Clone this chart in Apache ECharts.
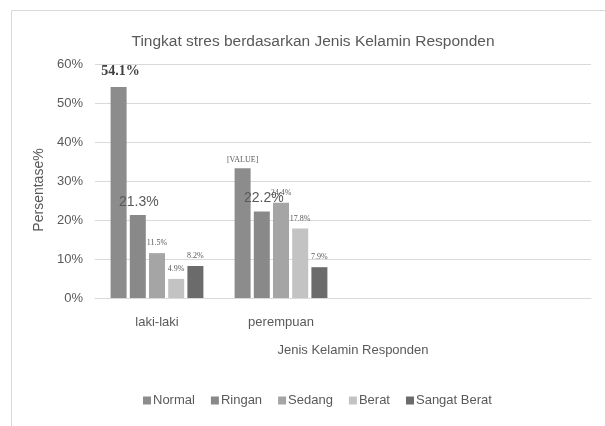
<!DOCTYPE html>
<html>
<head>
<meta charset="utf-8">
<script src="https://cdn.jsdelivr.net/npm/echarts@6/dist/echarts.min.js"></script>
<style>
  html, body { margin: 0; padding: 0; background: #fff; }
  #chart { width: 605px; height: 426px; }
</style>
</head>
<body>
<div id="chart"></div>
<script>
'use strict';

// data (percent)
const categories = ['laki-laki', 'perempuan', '', '']
const seriesNames = ['Normal', 'Ringan', 'Sedang', 'Berat', 'Sangat Berat']
const normal = [54.1, 33.3]
const ringan = [21.3, 22.2]
const sedang = [11.5, 24.4]
const berat = [4.9, 17.8]
const sangatBerat = [8.2, 7.9]
const yTicks = [0, 10, 20, 30, 40, 50, 60]

const values = [normal, ringan, sedang, berat, sangatBerat]
const colors = ['#8c8c8c', '#898989', '#a5a5a5', '#c3c3c3', '#6b6b6b']

const font = "'Liberation Sans', sans-serif"
const serif = "'Liberation Serif', 'DejaVu Serif', serif"

// label look per series (the original mixes several styles)
const smallLbl = { fontFamily: serif, fontSize: 8, color: '#595959' }
const labelLook = [
  [{ fontFamily: serif, fontSize: 14, fontWeight: 'bold', color: '#404040', offset: [2, -3] },
   { fontFamily: serif, fontSize: 8, color: '#595959', offset: [0, 2] }],
  [{ fontFamily: font, fontSize: 14, color: '#595959', offset: [1, 0] },
   { fontFamily: font, fontSize: 14, color: '#595959', offset: [2, 0] }],
  [smallLbl, smallLbl],
  [smallLbl, smallLbl],
  [smallLbl, smallLbl]
]

function labelText(si, ci, v) {
  if (si === 0 && ci === 1) return '[VALUE]'
  return v.toFixed(1) + '%'
}

var chart = echarts.init(document.getElementById('chart'))
const option = {
  animation: false,
  textStyle: { fontFamily: font },
  graphic: [{
    type: 'rect',
    shape: { x: 11.5, y: 10.5, width: 700, height: 500 },
    style: { fill: 'none', stroke: '#d9d9d9', lineWidth: 1 },
    silent: true
  }],
  title: {
    text: 'Tingkat stres berdasarkan Jenis Kelamin Responden',
    left: 308,
    textAlign: 'center',
    top: 29,
    textStyle: { fontFamily: font, fontSize: 15.5, fontWeight: 'normal', color: '#595959' }
  },
  legend: {
    data: seriesNames,
    bottom: 14,
    left: 138,
    itemWidth: 8,
    itemHeight: 8,
    itemGap: 16,
    icon: 'rect',
    textStyle: { fontFamily: font, fontSize: 13, color: '#595959', padding: [0, 0, 0, -3] }
  },
  grid: { left: 95, right: 14, top: 64, bottom: 128 },
  xAxis: {
    type: 'category',
    data: categories,
    name: 'Jenis Kelamin Responden',
    nameLocation: 'middle',
    nameGap: 46,
    nameTextStyle: { fontFamily: font, fontSize: 13, color: '#595959', padding: [0, 0, 0, 20] },
    axisLine: { lineStyle: { color: '#d9d9d9' } },
    axisTick: { show: false },
    axisLabel: { fontFamily: font, fontSize: 13, color: '#595959', margin: 18 }
  },
  yAxis: {
    type: 'value',
    min: yTicks[0],
    max: yTicks[yTicks.length - 1],
    interval: 10,
    name: 'Persentase%',
    nameLocation: 'middle',
    nameGap: 38,
    nameTextStyle: { fontFamily: font, fontSize: 14, color: '#595959', padding: [0, 18, 0, 0] },
    axisLine: { show: false },
    axisTick: { show: false },
    axisLabel: { fontFamily: font, fontSize: 13, color: '#595959', margin: 12, formatter: '{value}%' },
    splitLine: { lineStyle: { color: '#d9d9d9' } }
  },
  series: seriesNames.map(function (name, si) {
    return {
      name: name,
      type: 'bar',
      barWidth: 16,
      barGap: '20%',
      itemStyle: { color: colors[si] },
      data: values[si].map(function (v, ci) {
        const look = labelLook[si][ci]
        return {
          value: v,
          label: Object.assign({
            show: true,
            position: 'top',
            distance: 6,
            formatter: labelText(si, ci, v)
          }, look)
        }
      })
    }
  })
}
chart.setOption(option)
</script>
</body>
</html>
